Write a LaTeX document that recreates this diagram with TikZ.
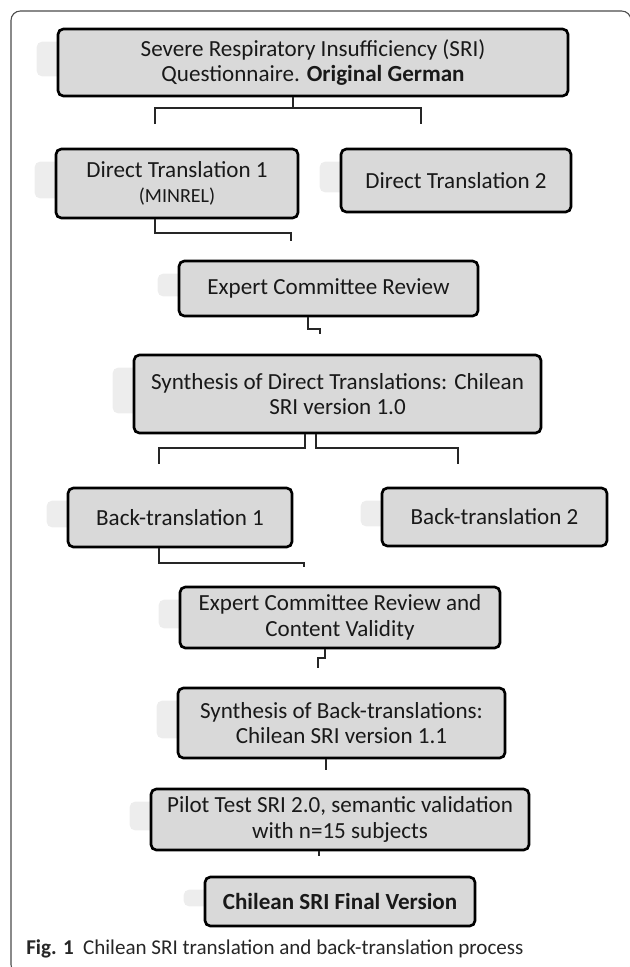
\documentclass[tikz,border=0pt]{standalone}
\usepackage{fontspec}
\setmainfont{Carlito}
\usetikzlibrary{backgrounds}
\tikzset{
  paso/.style={draw=black, line width=2pt, fill=black!15, rounded corners=4pt, align=center, inner sep=0pt, text=black!90, font=\fontsize{17.3}{19}\selectfont},
  liga/.style={line width=2pt, black!85},
  sombra/.style={fill=black!7, rounded corners=4pt}
}
\begin{document}
\begin{tikzpicture}[x=0.75pt,y=-0.75pt] %Proceso de traduccion
    \useasboundingbox (0,0) rectangle (630,967);
    \clip (0,0) rectangle (630,967);
    \draw[black!70, line width=0.8pt, rounded corners=7pt] (11,11) rectangle (631,974);

    \node[paso, minimum width=382.5pt, minimum height=50.25pt] (orig) at (313,62.5) {Severe Respiratory Insufficiency (SRI)\\Questionnaire. \textbf{Original German}};
    \node[paso, minimum width=181.5pt, minimum height=51.75pt] (dt1) at (177,183.5) {Direct Translation 1\\{\fontsize{15}{17}\selectfont (MINREL)}};
    \node[paso, minimum width=172.5pt, minimum height=47.25pt] (dt2) at (456,180.5) {Direct Translation 2};
    \node[paso, minimum width=224.25pt, minimum height=41.25pt] (ecr) at (328.5,288.5) {Expert Committee Review};
    \node[paso, minimum width=305.25pt, minimum height=58.5pt] (sdt) at (337.5,394) {Synthesis of Direct Translations: Chilean\\SRI version 1.0};
    \node[paso, minimum width=168pt, minimum height=44.25pt] (bt1) at (180,517.5) {Back-translation 1};
    \node[paso, minimum width=168.75pt, minimum height=43.5pt] (bt2) at (494.5,517) {Back-translation 2};
    \node[paso, minimum width=240pt, minimum height=45.75pt] (ecr2) at (340,617.5) {Expert Committee Review and\\Content Validity};
    \node[paso, minimum width=245.25pt, minimum height=52.5pt] (sbt) at (341.5,723) {Synthesis of Back-translations:\\Chilean SRI version 1.1};
    \node[paso, minimum width=283.5pt, minimum height=45.75pt] (pilot) at (340,819.5) {Pilot Test SRI 2.0, semantic validation\\with n=15 subjects};
    \node[paso, minimum width=202.5pt, minimum height=36.75pt] (final) at (340,901.5) {\textbf{Chilean SRI Final Version}};

    \begin{scope}[on background layer]
        \foreach \n in {orig,dt1,dt2,ecr,sdt,bt1,bt2,ecr2,sbt,pilot,final}
            \fill[sombra] ([shift={(-20,14)}]\n.north west) rectangle ([shift={(12,-21)}]\n.south west);
    \end{scope}

    \coordinate (k1) at (293,108);
    \coordinate (k1l) at (155,124);
    \coordinate (k1r) at (421,124);
    \draw[liga] (orig.south -| k1) -- (k1);
    \draw[liga] (k1l) |- (k1) -| (k1r);

    \coordinate (k2) at (155,233);
    \coordinate (k2e) at (291,241);
    \draw[liga] (dt1.south -| k2) -- (k2) -| (k2e);

    \coordinate (k3) at (308,329);
    \coordinate (k3e) at (320,334);
    \draw[liga] (ecr.south -| k3) -- (k3) -| (k3e);

    \coordinate (k4a) at (305,448);
    \coordinate (k4b) at (316,448);
    \coordinate (k4l) at (159,464);
    \coordinate (k4r) at (458,464);
    \draw[liga] (sdt.south -| k4a) -- (k4a) -| (k4l);
    \draw[liga] (sdt.south -| k4b) -- (k4b) -| (k4r);

    \coordinate (k5) at (159,563);
    \coordinate (k5e) at (304,567);
    \draw[liga] (bt1.south -| k5) -- (k5) -| (k5e);

    \coordinate (k6) at (325,658);
    \coordinate (k6e) at (318,668);
    \draw[liga] (ecr2.south -| k6) -- (k6) -| (k6e);

    \coordinate (k7) at (326,770);
    \draw[liga] (sbt.south -| k7) -- (k7);
    \coordinate (k8) at (319,856);
    \draw[liga] (pilot.south -| k8) -- (k8);

    \node[anchor=west, inner sep=0pt, text=black!85, font=\fontsize{15.8}{18}\selectfont] (cap) at (26,949) {\textbf{Fig. 1}\hspace{7pt}Chilean SRI translation and back-translation process};
\end{tikzpicture}
\end{document}
